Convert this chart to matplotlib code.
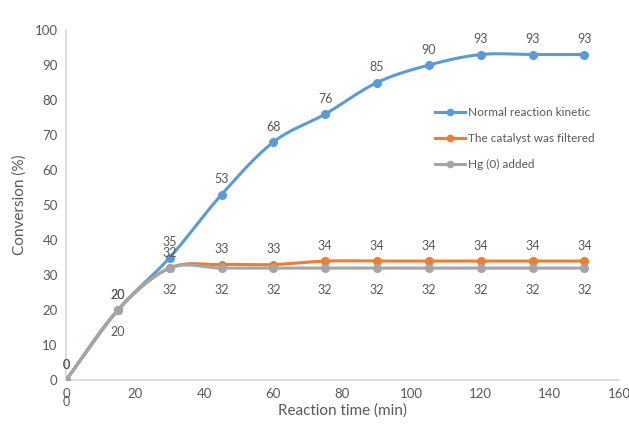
import numpy as np
import matplotlib
matplotlib.use("Agg")
import matplotlib.pyplot as plt

plt.rcParams['font.family'] = ['Lato', 'DejaVu Sans']

# data
time_min = [0, 15, 30, 45, 60, 75, 90, 105, 120, 135, 150]
normal = [0, 20, 35, 53, 68, 76, 85, 90, 93, 93, 93]
filtered = [0, 20, 32, 33, 33, 34, 34, 34, 34, 34, 34]
hg_added = [0, 20, 32, 32, 32, 32, 32, 32, 32, 32, 32]

series_names = ["Normal reaction kinetic", "The catalyst was filtered", "Hg (0) added"]
colors = ["#5B9BD5", "#ED7D31", "#A5A5A5"]
label_offsets = [11, 11, -16]  # points, above / below marker

text_col = "#595959"


def smooth(x, y, n=30):
    # Catmull-Rom curve through the points, roughly like Excel's smoothed line
    x = np.asarray(x, float)
    y = np.asarray(y, float)
    px = np.concatenate([[2 * x[0] - x[1]], x, [2 * x[-1] - x[-2]]])
    py = np.concatenate([[2 * y[0] - y[1]], y, [2 * y[-1] - y[-2]]])
    t = np.linspace(0, 1, n)
    xs, ys = [], []
    for i in range(1, len(px) - 2):
        for p, out in ((px, xs), (py, ys)):
            p0, p1, p2, p3 = p[i - 1], p[i], p[i + 1], p[i + 2]
            out.append(0.5 * (2 * p1 + (-p0 + p2) * t
                              + (2 * p0 - 5 * p1 + 4 * p2 - p3) * t ** 2
                              + (-p0 + 3 * p1 - 3 * p2 + p3) * t ** 3))
    return np.concatenate(xs), np.concatenate(ys)


fig = plt.figure(figsize=(6.29, 4.29), dpi=100)
ax = fig.add_axes([0.105, 0.114, 0.879, 0.816])

# later series sit on top, as in the Excel original
all_vals = [normal, filtered, hg_added]
for k, vals in enumerate(all_vals):
    sx, sy = smooth(time_min, vals)
    ax.plot(sx, sy, color=colors[k], lw=2.2, solid_capstyle='round', zorder=2 + 2 * k,
            label='_nolegend_')
    ax.plot(time_min, vals, 'o', color=colors[k], ms=5.5, zorder=3 + 2 * k)
    ax.plot([], [], '-o', color=colors[k], lw=2.2, ms=4.5, label=series_names[k])
    for xv, yv in zip(time_min, vals):
        ax.annotate(str(yv), (xv, yv), xytext=(0, label_offsets[k]),
                    textcoords='offset points', ha='center', va='center',
                    fontsize=9, color=text_col)

ax.set_xlim(0, 160)
ax.set_ylim(0, 100)
ax.set_xticks(range(0, 161, 20))
ax.set_yticks(range(0, 101, 10))
ax.tick_params(length=0, labelsize=9.5, labelcolor=text_col, pad=6)
for s in ['top', 'right']:
    ax.spines[s].set_visible(False)
for s in ['left', 'bottom']:
    ax.spines[s].set_color('#D9D9D9')
    ax.spines[s].set_linewidth(1.2)

ax.set_xlabel("Reaction time (min)", fontsize=11, color=text_col, labelpad=2)
ax.set_ylabel("Conversion (%)", fontsize=11, color=text_col, labelpad=6)

h, l = ax.get_legend_handles_labels()
fig.legend(h, l, loc='upper left', bbox_to_anchor=(0.675, 0.775), frameon=False,
           fontsize=8.5, labelcolor=text_col, handlelength=2.5, handletextpad=0.3,
           labelspacing=1.25)

fig.savefig("out.png", dpi=100)
